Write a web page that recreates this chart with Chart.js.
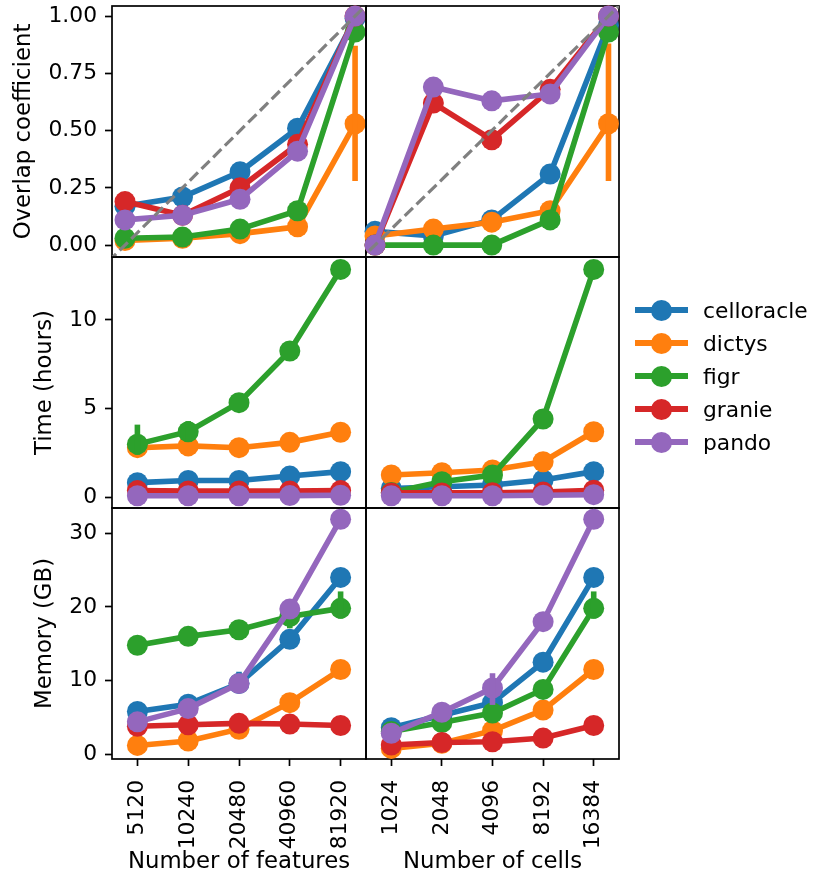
<!DOCTYPE html>
<html>
<head>
<meta charset="utf-8">
<script src="https://cdn.jsdelivr.net/npm/chart.js@4.4.1/dist/chart.umd.min.js"></script>
<style>
html,body{margin:0;padding:0;background:#fff;}
#wrap{position:relative;width:813px;height:880px;overflow:hidden;background:#fff;}
#wrap canvas{position:absolute;left:0;top:0;}
.legend{position:absolute;left:635px;top:293.5px;font-family:'DejaVu Sans',sans-serif;font-size:21.8px;color:#000;}
.item{position:relative;height:33px;width:175px;}
.item .ln{position:absolute;left:0;top:13.7px;width:53px;height:5.6px;}
.item .dot{position:absolute;left:16.2px;top:6px;width:21px;height:21px;border-radius:50%;}
.item .tx{position:absolute;left:68px;top:0;line-height:33px;white-space:nowrap;}
</style>
</head>
<body>
<div id="wrap"></div>
<script>
// ---------- data ----------
const FEATURES = ['5120', '10240', '20480', '40960', '81920'];
const CELLS = ['1024', '2048', '4096', '8192', '16384'];
const METHODS = ['celloracle', 'dictys', 'figr', 'granie', 'pando'];
const X_POS = [0, 1, 2, 3, 4];

const OVERLAP_TICKS = [0, 0.25, 0.5, 0.75, 1.0];
const TIME_TICKS = [0, 5, 10];
const MEMORY_TICKS = [0, 10, 20, 30];

// diagonal reference line (endpoints, clipped to the axes)
const DIAG = [[-0.5, -0.125], [4.5, 1.125]];

const OVL_FEAT = {
  celloracle: [0.17, 0.21, 0.32, 0.51, 0.99],
  dictys:     [0.02, 0.03, 0.05, 0.08, 0.53],
  figr:       [0.03, 0.035, 0.07, 0.15, 0.93],
  granie:     [0.19, 0.13, 0.25, 0.44, 1.0],
  pando:      [0.11, 0.13, 0.20, 0.41, 1.0]
};
const OVL_CELLS = {
  celloracle: [0.06, 0.04, 0.11, 0.31, 0.96],
  dictys:     [0.04, 0.07, 0.10, 0.15, 0.53],
  figr:       [0.0, 0.0, 0.0, 0.11, 0.93],
  granie:     [0.0, 0.62, 0.46, 0.68, 1.0],
  pando:      [0.0, 0.69, 0.63, 0.66, 1.0]
};
const TIME_FEAT = {
  celloracle: [0.83, 0.95, 0.95, 1.2, 1.45],
  dictys:     [2.8, 2.9, 2.8, 3.1, 3.67],
  figr:       [3.0, 3.7, 5.34, 8.25, 12.85],
  granie:     [0.38, 0.36, 0.36, 0.36, 0.38],
  pando:      [0.09, 0.09, 0.09, 0.1, 0.12]
};
const TIME_CELLS = {
  celloracle: [0.5, 0.6, 0.7, 0.98, 1.45],
  dictys:     [1.26, 1.39, 1.54, 2.01, 3.7],
  figr:       [0.28, 0.88, 1.26, 4.42, 12.85],
  granie:     [0.25, 0.25, 0.26, 0.3, 0.4],
  pando:      [0.09, 0.09, 0.09, 0.12, 0.15]
};
const MEM_FEAT = {
  celloracle: [5.8, 6.8, 9.6, 15.6, 24.0],
  dictys:     [1.2, 1.8, 3.4, 7.0, 11.5],
  figr:       [14.8, 16.0, 16.9, 18.7, 19.8],
  granie:     [3.8, 4.0, 4.2, 4.1, 3.9],
  pando:      [4.4, 6.2, 9.6, 19.7, 31.9]
};
const MEM_CELLS = {
  celloracle: [3.6, 5.3, 7.0, 12.5, 24.0],
  dictys:     [0.8, 1.5, 3.2, 6.0, 11.5],
  figr:       [3.1, 4.3, 5.6, 8.8, 19.8],
  granie:     [1.26, 1.6, 1.7, 2.2, 3.9],
  pando:      [2.85, 5.7, 9.0, 18.0, 31.9]
};

// error bars [low, high] (null = none visible)
const ERR_OVL_FEAT = { dictys: [null, null, null, null, [0.28, 0.87]] };
const ERR_OVL_CELLS = { dictys: [null, null, null, null, [0.28, 0.88]] };
const ERR_TIME_FEAT = { figr: [[2.4, 4.1], [3.2, 4.3], null, null, null] };
const ERR_TIME_CELLS = {};
const ERR_MEM_FEAT = { celloracle: [null, null, [9.6, 11.2], null, null], figr: [null, null, null, [17.1, 19.5], [18.4, 22.1]] };
const ERR_MEM_CELLS = { pando: [null, null, [6.7, 11.0], null, null], figr: [null, null, null, null, [18.4, 22.1]] };

// ---------- style / layout ----------
const COLORS = ['#1f77b4', '#ff7f0e', '#2ca02c', '#d62728', '#9467bd'];
const FONT = { family: "'DejaVu Sans', sans-serif", size: 21.8 };
const TFONT = { family: "'DejaVu Sans', sans-serif", size: 22.8 };
const LW = 5.6;
const PR = 10.5;

const PANELS = [
  { data: OVL_FEAT, err: ERR_OVL_FEAT, left: 112, right: 366, top: 6, bottom: 257, ymin: -0.052, ymax: 1.044, xmin: -0.226, xmax: 4.19,
    yticks: OVERLAP_TICKS, fmt: v => v.toFixed(2), ytitle: 'Overlap coefficient', ytpad: 10, showY: true, showX: false, diag: true, xlabels: FEATURES },
  { data: OVL_CELLS, err: ERR_OVL_CELLS, left: 366, right: 619, top: 6, bottom: 257, ymin: -0.052, ymax: 1.044, xmin: -0.154, xmax: 4.18,
    yticks: OVERLAP_TICKS, fmt: v => v.toFixed(2), showY: false, showX: false, diag: true, xlabels: CELLS },
  { data: TIME_FEAT, err: ERR_TIME_FEAT, left: 112, right: 366, top: 257, bottom: 508, ymin: -0.60, ymax: 13.55, xmin: -0.5, xmax: 4.5,
    yticks: TIME_TICKS, fmt: v => String(v), ytitle: 'Time (hours)', ytpad: 31, showY: true, showX: false, xlabels: FEATURES },
  { data: TIME_CELLS, err: ERR_TIME_CELLS, left: 366, right: 619, top: 257, bottom: 508, ymin: -0.60, ymax: 13.55, xmin: -0.5, xmax: 4.5,
    yticks: TIME_TICKS, fmt: v => String(v), showY: false, showX: false, xlabels: CELLS },
  { data: MEM_FEAT, err: ERR_MEM_FEAT, left: 112, right: 366, top: 508, bottom: 759, ymin: -0.64, ymax: 33.42, xmin: -0.5, xmax: 4.5,
    yticks: MEMORY_TICKS, fmt: v => String(v), ytitle: 'Memory (GB)', ytpad: 31, showY: true, showX: true, xlabels: FEATURES, xtitle: 'Number of features' },
  { data: MEM_CELLS, err: ERR_MEM_CELLS, left: 366, right: 619, top: 508, bottom: 759, ymin: -0.64, ymax: 33.42, xmin: -0.5, xmax: 4.5,
    yticks: MEMORY_TICKS, fmt: v => String(v), showY: false, showX: true, xlabels: CELLS, xtitle: 'Number of cells' }
];

Chart.defaults.font.family = FONT.family;
Chart.defaults.font.size = FONT.size;
Chart.defaults.color = '#000';

const spinePlugin = {
  id: 'spines',
  beforeDatasetsDraw(chart) {
    const a = chart.chartArea, ctx = chart.ctx;
    ctx.save();
    ctx.strokeStyle = '#000';
    ctx.lineWidth = 1.7;
    ctx.strokeRect(a.left, a.top, a.right - a.left, a.bottom - a.top);
    ctx.restore();
  }
};
const errPlugin = {
  id: 'errbars',
  afterDatasetDraw(chart, args) {
    const ds = chart.data.datasets[args.index];
    if (!ds.errs) return;
    const ctx = chart.ctx, xs = chart.scales.x, ys = chart.scales.y;
    ctx.save();
    ctx.strokeStyle = ds.borderColor;
    ctx.lineWidth = LW;
    ctx.lineCap = 'butt';
    ds.errs.forEach((e, j) => {
      if (!e) return;
      const px = xs.getPixelForValue(ds.data[j].x);
      ctx.beginPath();
      ctx.moveTo(px, ys.getPixelForValue(e[0]));
      ctx.lineTo(px, ys.getPixelForValue(e[1]));
      ctx.stroke();
    });
    ctx.restore();
  }
};

const wrap = document.getElementById('wrap');

PANELS.forEach(p => {
  const cv = document.createElement('canvas');
  cv.width = 813; cv.height = 880;
  cv.style.width = '813px'; cv.style.height = '880px';
  wrap.appendChild(cv);

  const datasets = METHODS.map((m, i) => ({
    label: m,
    data: X_POS.map((x, j) => ({ x: x, y: p.data[m][j] })),
    borderColor: COLORS[i],
    backgroundColor: COLORS[i],
    pointBackgroundColor: COLORS[i],
    borderWidth: LW,
    pointRadius: PR,
    pointHoverRadius: PR,
    pointBorderWidth: 0,
    tension: 0,
    clip: false,
    order: 5 - i,
    errs: p.err[m] || null
  }));
  if (p.diag) {
    datasets.push({
      label: 'diag',
      data: DIAG.map(d => ({ x: d[0], y: d[1] })),
      borderColor: '#808080',
      borderWidth: 3.2,
      borderDash: [11.5, 5],
      pointRadius: 0,
      pointHoverRadius: 0,
      clip: 0,
      order: 0
    });
  }

  new Chart(cv, {
    type: 'line',
    data: { datasets },
    plugins: [spinePlugin, errPlugin],
    options: {
      responsive: false,
      animation: false,
      events: [],
      layout: {
        autoPadding: false,
        padding: {
          left: p.showY ? 0 : p.left,
          right: 813 - p.right,
          top: p.top,
          bottom: p.showX ? 0 : 880 - p.bottom
        }
      },
      plugins: { legend: { display: false }, tooltip: { enabled: false } },
      scales: {
        x: {
          type: 'linear',
          min: p.xmin, max: p.xmax,
          display: p.showX,
          afterBuildTicks: s => { s.ticks = X_POS.map(v => ({ value: v })); },
          afterFit: s => {
            if (p.showX) s.height = 880 - p.bottom; else s.height = 0;
            s.paddingLeft = 0; s.paddingRight = 0; s.paddingTop = 0; s.paddingBottom = 0;
          },
          grid: { display: true, drawOnChartArea: false, drawTicks: true, tickLength: 7, tickWidth: 1.7, tickColor: '#000' },
          border: { display: false },
          ticks: {
            autoSkip: false, maxRotation: 90, minRotation: 90, padding: 14, labelOffset: 0,
            color: '#000', font: FONT,
            callback: v => p.xlabels[v]
          },
          title: { display: !!p.xtitle, text: p.xtitle || '', color: '#000', font: TFONT, padding: { top: 0, bottom: 4 } }
        },
        y: {
          type: 'linear',
          min: p.ymin, max: p.ymax,
          display: p.showY,
          afterBuildTicks: s => { s.ticks = p.yticks.map(v => ({ value: v })); },
          afterFit: s => {
            if (p.showY) s.width = p.left; else s.width = 0;
            s.paddingTop = 0; s.paddingBottom = 0; s.paddingLeft = 0; s.paddingRight = 0;
          },
          grid: { display: true, drawOnChartArea: false, drawTicks: true, tickLength: 7, tickWidth: 1.7, tickColor: '#000' },
          border: { display: false },
          ticks: { padding: 8, color: '#000', font: FONT, callback: v => p.fmt(v) },
          title: { display: !!p.ytitle, text: p.ytitle || '', color: '#000', font: TFONT, padding: { top: p.ytpad || 0, bottom: 0 } }
        }
      }
    }
  });
});

// legend
const leg = document.createElement('div');
leg.className = 'legend';
METHODS.forEach((m, i) => {
  const it = document.createElement('div');
  it.className = 'item';
  it.innerHTML = '<div class="ln" style="background:' + COLORS[i] + '"></div>' +
                 '<div class="dot" style="background:' + COLORS[i] + '"></div>' +
                 '<div class="tx">' + m + '</div>';
  leg.appendChild(it);
});
wrap.appendChild(leg);
</script>
</body>
</html>
